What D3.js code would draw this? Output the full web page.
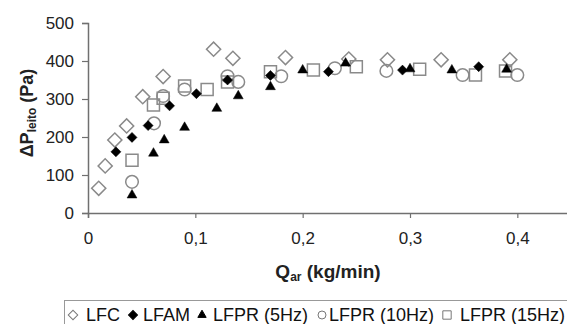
<!DOCTYPE html>
<html>
<head>
<meta charset="utf-8">
<script src="https://cdn.jsdelivr.net/npm/d3@7"></script>
<style>
  body { margin: 0; background: #fff; }
  svg { display: block; font-family: "Liberation Sans", Arial, sans-serif; }
</style>
</head>
<body>
<div id="chart"></div>
<script>
// series values: [Q_ar (kg/min), dP (Pa)]
const lfc = [[0.010, 65], [0.016, 124], [0.025, 192], [0.036, 229], [0.051, 306], [0.070, 359],
  [0.117, 431], [0.135, 407], [0.184, 409], [0.243, 405], [0.279, 403], [0.329, 403], [0.393, 403]];
const lfam = [[0.026, 161], [0.041, 199], [0.056, 230], [0.076, 282], [0.101, 314], [0.130, 350],
  [0.170, 362], [0.224, 372], [0.293, 376], [0.364, 385]];
const lfpr5 = [[0.041, 47], [0.061, 157], [0.071, 192], [0.090, 225], [0.120, 275], [0.140, 308],
  [0.170, 332], [0.200, 376], [0.240, 394], [0.300, 379], [0.339, 376], [0.390, 378]];
const lfpr10 = [[0.041, 82], [0.0615, 236], [0.070, 308], [0.090, 325], [0.130, 360], [0.140, 345],
  [0.180, 360], [0.230, 381], [0.278, 374], [0.349, 363], [0.400, 363]];
const lfpr15 = [[0.041, 139], [0.061, 284], [0.070, 302], [0.090, 334], [0.111, 325], [0.130, 345],
  [0.170, 372], [0.210, 376], [0.250, 385], [0.309, 378], [0.361, 363], [0.389, 374]];

const xTicks = [0, 0.1, 0.2, 0.3, 0.4];
const yTicks = [0, 100, 200, 300, 400, 500];
const legendNames = ['LFC', 'LFAM', 'LFPR (5Hz)', 'LFPR (10Hz)', 'LFPR (15Hz)'];

const width = 567, height = 324;
const svg = d3.select('#chart').append('svg')
  .attr('width', width).attr('height', height);

const x = d3.scaleLinear().domain([0, 0.45]).range([88, 571]);
const y = d3.scaleLinear().domain([0, 500]).range([213, 23]);

const axisColor = '#707070';
const fmt = d => d === 0 ? '0' : d3.format('.1f')(d).replace('.', ',');

const yAxis = svg.append('g')
  .attr('transform', 'translate(88,0)')
  .call(d3.axisLeft(y).tickValues(yTicks).tickSize(6).tickPadding(8).tickFormat(d3.format('d')));
const xAxis = svg.append('g')
  .attr('transform', 'translate(0,213)')
  .call(d3.axisBottom(x).tickValues(xTicks).tickSize(5).tickPadding(14).tickFormat(fmt));

[xAxis, yAxis].forEach(ax => {
  ax.select('.domain').attr('stroke', axisColor).attr('stroke-width', 1.5);
  ax.selectAll('.tick line').attr('stroke', axisColor).attr('stroke-width', 1.2);
  ax.selectAll('.tick text').attr('fill', '#222').style('font-size', '17px');
});

// marker styles for each series
const styles = [
  { data: lfc, type: d3.symbolSquare, size: 100, rot: 45, fill: 'none', stroke: '#8a8a8a' },
  { data: lfam, type: d3.symbolSquare, size: 50, rot: 45, fill: '#000', stroke: '#000' },
  { data: lfpr5, type: d3.symbolTriangle, size: 42, rot: 0, fill: '#000', stroke: '#000' },
  { data: lfpr10, type: d3.symbolCircle, size: 125, rot: 0, fill: 'none', stroke: '#8a8a8a' },
  { data: lfpr15, type: d3.symbolSquare, size: 144, rot: 0, fill: 'none', stroke: '#8a8a8a' }
];
const drawOrder = [0, 3, 4, 1, 2];

drawOrder.forEach(i => {
  const s = styles[i];
  svg.append('g').selectAll('path')
    .data(s.data)
    .enter().append('path')
    .attr('d', d3.symbol().type(s.type).size(s.size))
    .attr('transform', d => 'translate(' + x(d[0]) + ',' + y(d[1]) + ') rotate(' + s.rot + ')')
    .attr('fill', s.fill)
    .attr('stroke', s.stroke)
    .attr('stroke-width', s.fill === 'none' ? 1.5 : 0.5);
});

// axis titles
const yTitle = svg.append('text')
  .attr('transform', 'translate(33,113) rotate(-90)')
  .attr('text-anchor', 'middle')
  .attr('font-weight', 'bold')
  .style('font-size', '18px')
  .attr('fill', '#222');
yTitle.append('tspan').text('ΔP');
yTitle.append('tspan').text('leito').style('font-size', '12px').attr('dy', 3);
yTitle.append('tspan').text(' (Pa)').attr('dy', -3);

const xTitle = svg.append('text')
  .attr('x', 328).attr('y', 278)
  .attr('text-anchor', 'middle')
  .attr('font-weight', 'bold')
  .style('font-size', '19px')
  .attr('fill', '#222');
xTitle.append('tspan').text('Q');
xTitle.append('tspan').text('ar').style('font-size', '12px').attr('dy', 3);
xTitle.append('tspan').text(' (kg/min)').attr('dy', -3);

// legend
const legend = svg.append('g');
legend.append('rect')
  .attr('x', 64.5).attr('y', 300.5).attr('width', 520).attr('height', 40)
  .attr('fill', 'none').attr('stroke', '#999');

const legendSymX = [73, 133, 202, 322, 447];
const legendTextX = [86, 143, 213, 329, 460];
const legendSymbols = [
  { type: d3.symbolSquare, size: 45, rot: 45, fill: 'none', stroke: '#777' },
  { type: d3.symbolSquare, size: 40, rot: 45, fill: '#000', stroke: '#000' },
  { type: d3.symbolTriangle, size: 30, rot: 0, fill: '#000', stroke: '#000' },
  { type: d3.symbolCircle, size: 50, rot: 0, fill: 'none', stroke: '#777' },
  { type: d3.symbolSquare, size: 70, rot: 0, fill: 'none', stroke: '#777' }
];
legendNames.forEach((name, i) => {
  const s = legendSymbols[i];
  legend.append('path')
    .attr('d', d3.symbol().type(s.type).size(s.size))
    .attr('transform', 'translate(' + legendSymX[i] + ',315) rotate(' + s.rot + ')')
    .attr('fill', s.fill).attr('stroke', s.stroke).attr('stroke-width', 1);
  legend.append('text')
    .attr('x', legendTextX[i]).attr('y', 321)
    .style('font-size', '18px')
    .attr('fill', '#111')
    .text(name);
});
</script>
</body>
</html>
